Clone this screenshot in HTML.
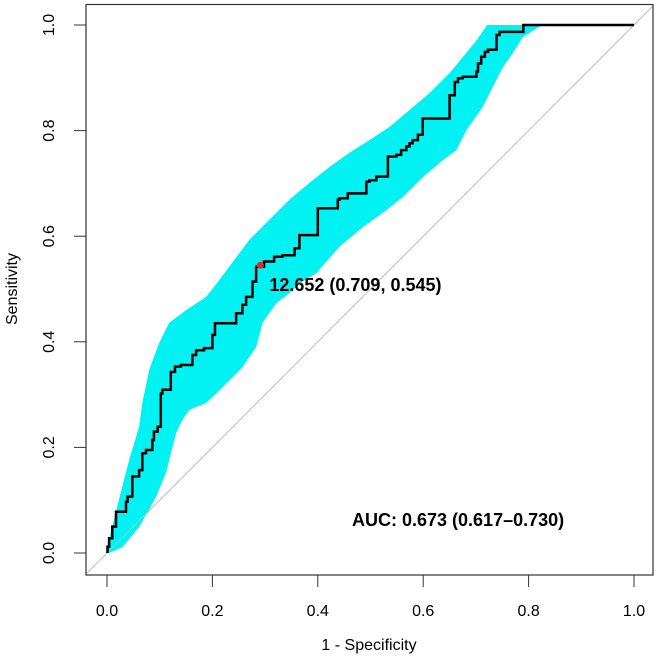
<!DOCTYPE html>
<html><head><meta charset="utf-8"><style>
body{margin:0;background:#fff;}
svg text{font-family:"Liberation Sans",Arial,sans-serif;}
</style></head><body>
<svg id="chart" width="663" height="659" viewBox="0 0 663 659" xmlns="http://www.w3.org/2000/svg">
<defs><clipPath id="clip"><rect x="86" y="4" width="567" height="571"/></clipPath></defs>
<g id="band" clip-path="url(#clip)"></g>
<line id="diag" stroke="#bbbbbb" stroke-width="1" clip-path="url(#clip)"/>
<path id="curve" fill="none" stroke="#000" stroke-width="2.5" stroke-linejoin="miter"/>
<circle id="best" r="3.5" fill="#e8262a"/>
<text id="bestlbl" font-size="18" font-weight="bold" fill="#000">12.652 (0.709, 0.545)</text>
<text x="352" y="526" font-size="18" font-weight="bold" fill="#000">AUC: 0.673 (0.617–0.730)</text>
<rect x="86" y="4.5" width="567" height="570.5" fill="none" stroke="#333" stroke-width="1.2"/>
<g id="axes"></g>
<text x="369" y="650" font-size="16" text-anchor="middle">1 - Specificity</text>
<text x="0" y="0" font-size="16" text-anchor="middle" transform="translate(17,289) rotate(-90)">Sensitivity</text>
</svg>
<script>
const curveFpr=[0.001,0.004,0.010,0.017,0.021,0.036,0.039,0.048,0.061,0.067,0.074,0.086,0.089,0.096,0.102,0.105,0.121,0.129,0.140,0.162,0.169,0.184,0.200,0.205,0.210,0.245,0.257,0.264,0.276,0.283,0.289,0.298,0.317,0.333,0.356,0.365,0.378,0.400,0.416,0.438,0.441,0.457,0.460,0.492,0.498,0.511,0.514,0.533,0.549,0.558,0.568,0.574,0.580,0.590,0.599,0.609,0.650,0.660,0.666,0.675,0.701,0.704,0.710,0.717,0.723,0.739,0.745,0.752,0.790,0.793,1];
const curveTpr=[0,0.012,0.028,0.050,0.078,0.078,0.097,0.107,0.145,0.157,0.189,0.195,0.214,0.230,0.239,0.302,0.309,0.343,0.353,0.356,0.375,0.384,0.388,0.413,0.435,0.435,0.454,0.470,0.485,0.514,0.542,0.542,0.552,0.561,0.564,0.577,0.602,0.602,0.653,0.653,0.669,0.672,0.681,0.681,0.703,0.706,0.713,0.713,0.751,0.754,0.763,0.770,0.776,0.782,0.792,0.823,0.823,0.867,0.892,0.899,0.902,0.912,0.927,0.940,0.949,0.953,0.981,0.987,0.987,1,1];
const upperFpr=[0,0.004,0.013,0.026,0.042,0.061,0.067,0.080,0.099,0.118,0.150,0.188,0.213,0.270,0.308,0.346,0.384,0.422,0.460,0.498,0.536,0.574,0.612,0.650,0.675,0.702,0.721,0.827];
const upperTpr=[0,0.025,0.063,0.114,0.176,0.239,0.284,0.347,0.398,0.436,0.460,0.485,0.517,0.593,0.631,0.669,0.701,0.731,0.758,0.782,0.807,0.839,0.871,0.909,0.939,0.972,1,1];
const lowerFpr=[0.004,0.029,0.061,0.093,0.112,0.131,0.143,0.156,0.188,0.219,0.257,0.283,0.295,0.321,0.346,0.365,0.397,0.441,0.485,0.523,0.561,0.599,0.637,0.663,0.682,0.713,0.732,0.751,0.770,0.789,0.815,0.827];
const lowerTpr=[0,0.011,0.049,0.106,0.152,0.227,0.252,0.271,0.284,0.314,0.352,0.390,0.436,0.473,0.492,0.511,0.530,0.580,0.617,0.644,0.674,0.712,0.744,0.763,0.801,0.845,0.883,0.920,0.947,0.977,0.994,1];
const bestFpr=0.291, bestTpr=0.545;
const xTicks=[0,0.2,0.4,0.6,0.8,1.0];
const xTickLabels=["0.0","0.2","0.4","0.6","0.8","1.0"];
const yTicks=[0,0.2,0.4,0.6,0.8,1.0];
const yTickLabels=["0.0","0.2","0.4","0.6","0.8","1.0"];

const sx=v=>107+v*527, sy=v=>553-v*528;
const NS="http://www.w3.org/2000/svg";
const pts=(xs,ys)=>xs.map((x,i)=>sx(x).toFixed(1)+","+sy(ys[i]).toFixed(1));
const band=document.createElementNS(NS,"polygon");


const lp=pts(lowerFpr,lowerTpr).reverse();
band.setAttribute("points",pts(upperFpr,upperTpr).concat(lp).join(" "));
band.setAttribute("fill","#00f2f2");
document.getElementById("band").appendChild(band);
const d=document.getElementById("diag");
d.setAttribute("x1",sx(-0.1));d.setAttribute("y1",sy(-0.1));d.setAttribute("x2",sx(1.1));d.setAttribute("y2",sy(1.1));
let cd="M"+sx(curveFpr[0]).toFixed(1)+","+sy(curveTpr[0]).toFixed(1);
for(let i=1;i<curveFpr.length;i++){
 cd+=" V"+sy(curveTpr[i]).toFixed(1)+" H"+sx(curveFpr[i]).toFixed(1);
}
document.getElementById("curve").setAttribute("d",cd);
const b=document.getElementById("best");b.setAttribute("cx",sx(bestFpr));b.setAttribute("cy",sy(bestTpr));
const bl=document.getElementById("bestlbl");bl.setAttribute("x",sx(bestFpr)+9);bl.setAttribute("y",sy(bestTpr)+26);
const ax=document.getElementById("axes");
xTicks.forEach((t,i)=>{
 const l=document.createElementNS(NS,"line");
 
 
 l.setAttribute("x1",sx(t));l.setAttribute("x2",sx(t));l.setAttribute("y1",575);l.setAttribute("y2",587);l.setAttribute("stroke","#333");ax.appendChild(l);
 const tx=document.createElementNS(NS,"text");
 
 
 tx.setAttribute("x",sx(t));tx.setAttribute("y",616);tx.setAttribute("font-size","16");tx.setAttribute("text-anchor","middle");tx.textContent=xTickLabels[i];ax.appendChild(tx);
});
yTicks.forEach((t,i)=>{
 const l=document.createElementNS(NS,"line");
 
 
 l.setAttribute("x1",74);l.setAttribute("x2",86);l.setAttribute("y1",sy(t));l.setAttribute("y2",sy(t));l.setAttribute("stroke","#333");ax.appendChild(l);
 const tx=document.createElementNS(NS,"text");
 
 
 tx.setAttribute("transform","translate(54,"+sy(t)+") rotate(-90)");tx.setAttribute("font-size","16");tx.setAttribute("text-anchor","middle");tx.textContent=yTickLabels[i];ax.appendChild(tx);
});
</script>
</body></html>
